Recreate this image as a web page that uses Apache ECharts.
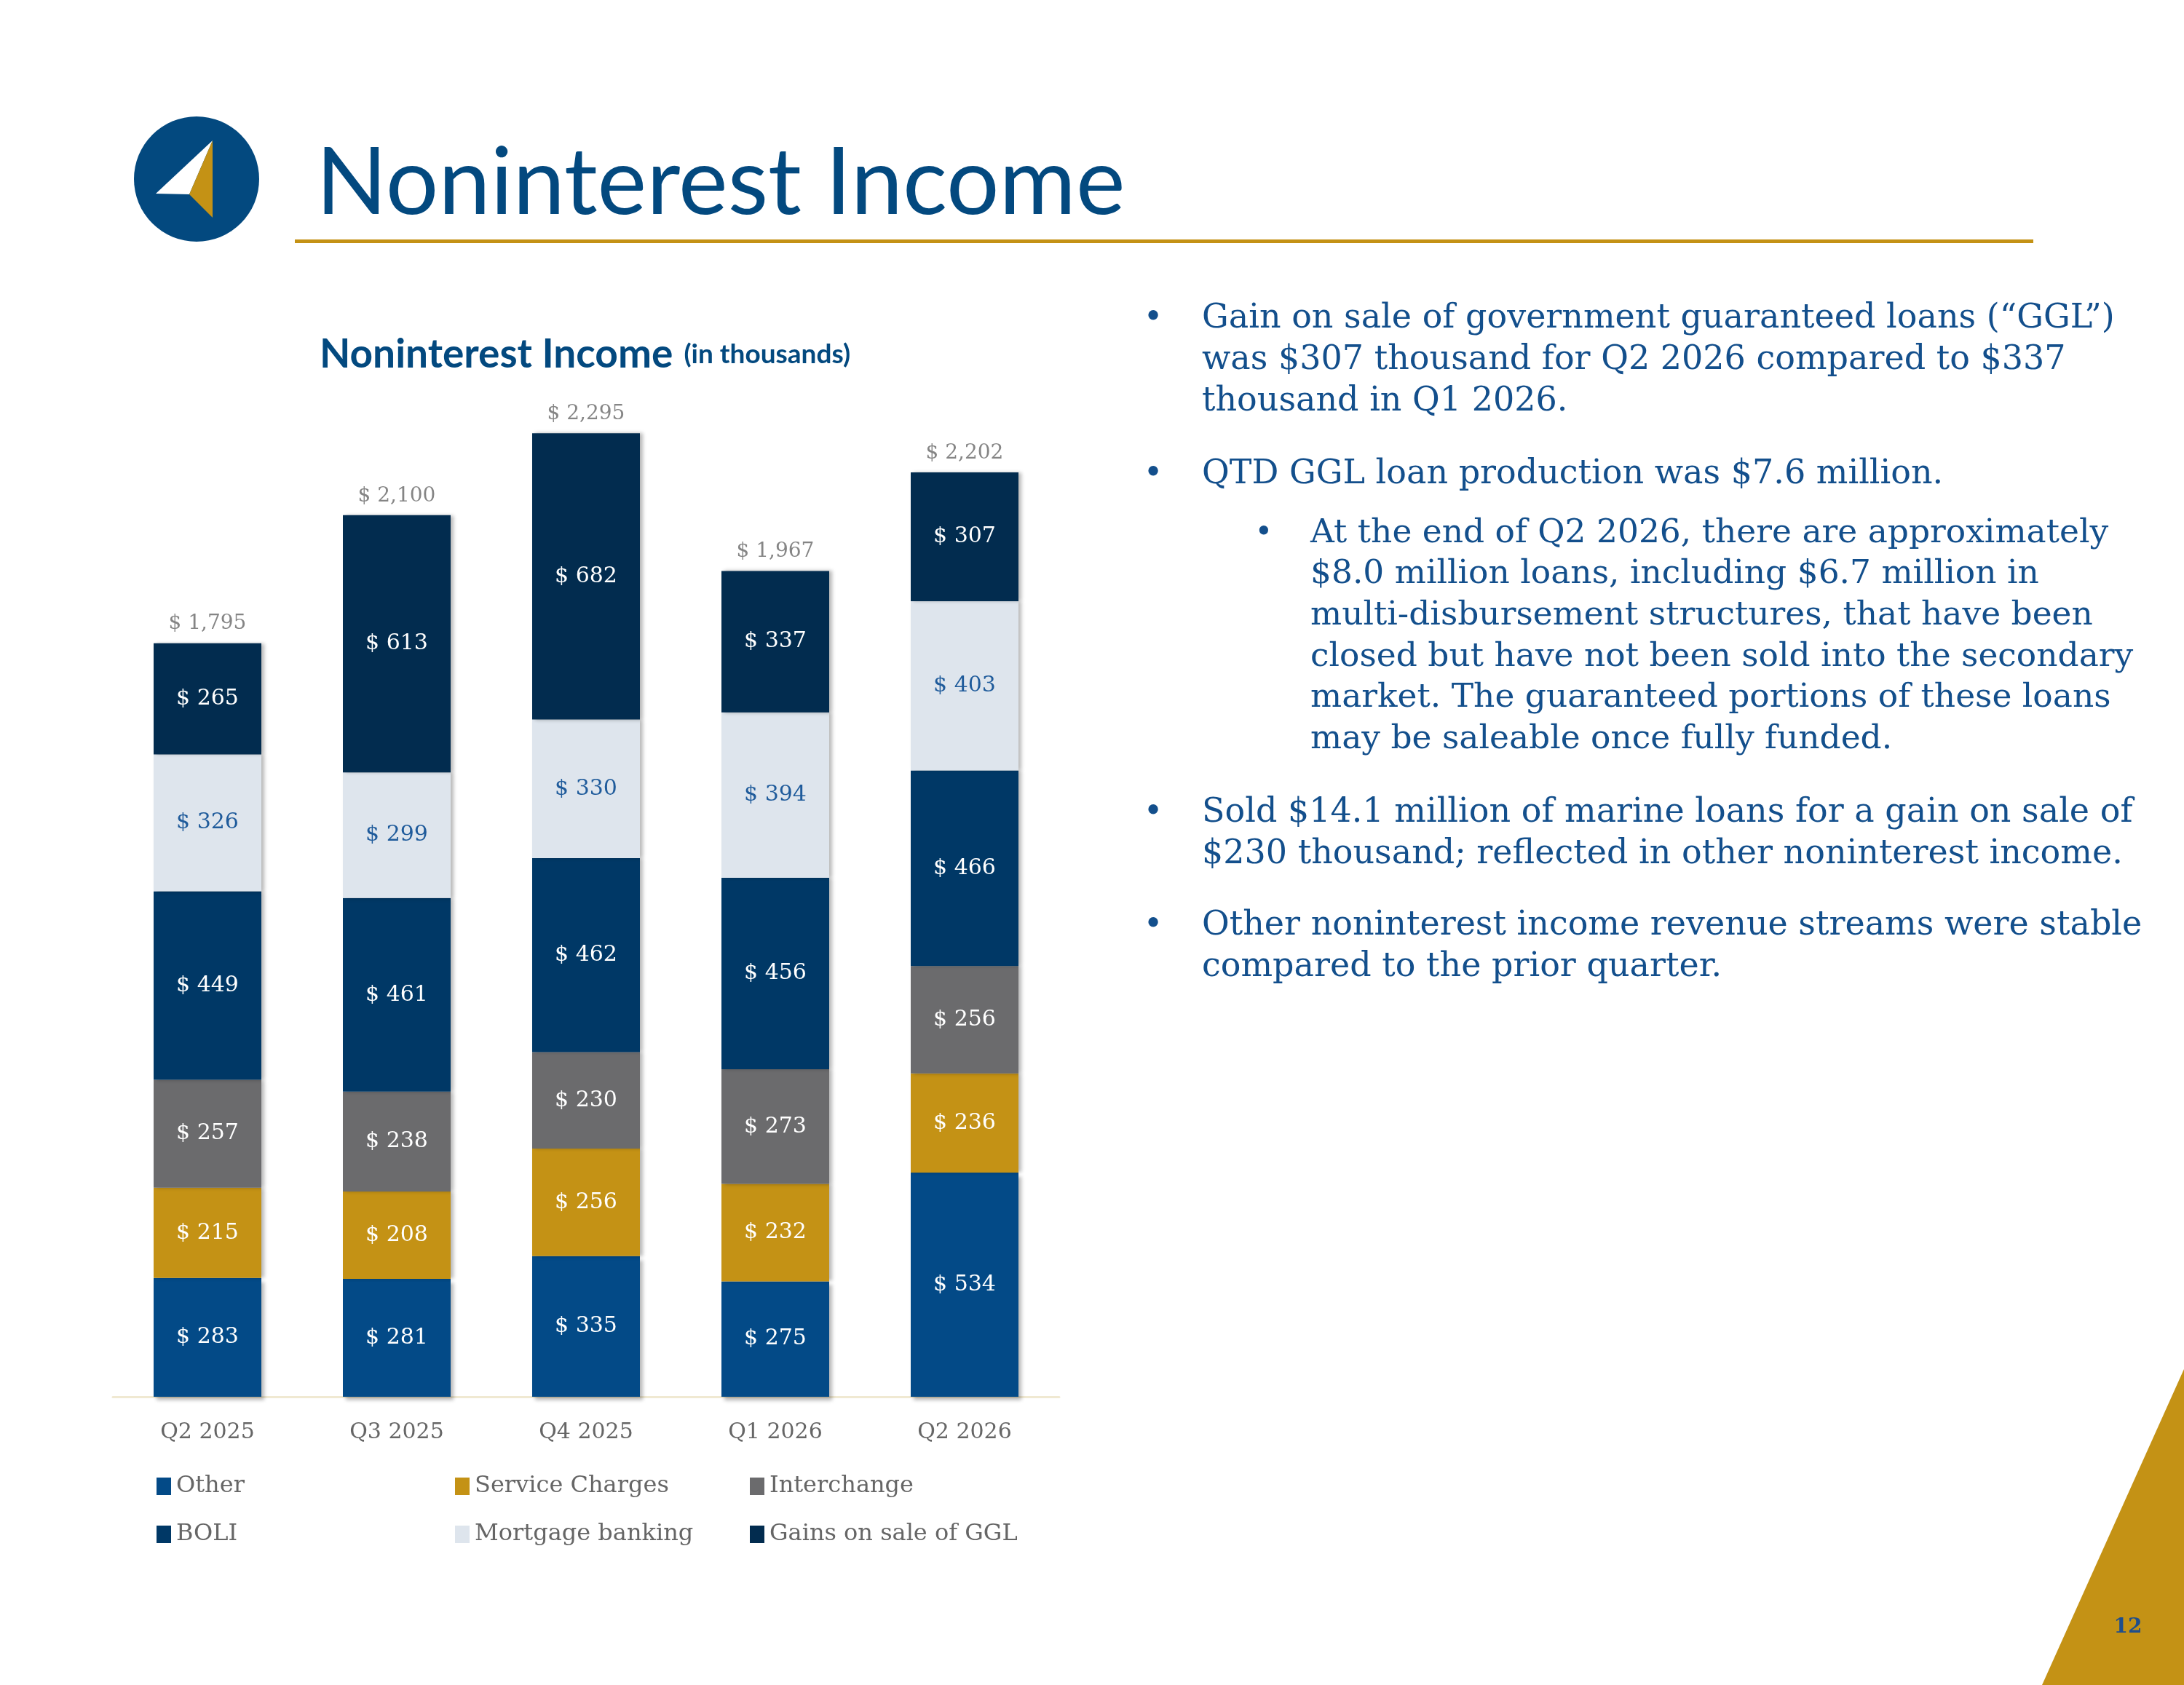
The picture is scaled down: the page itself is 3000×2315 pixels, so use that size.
<!DOCTYPE html>
<html><head><meta charset="utf-8">
<script src="https://cdn.jsdelivr.net/npm/echarts@6/dist/echarts.min.js"></script>
<style>html,body{margin:0;padding:0;background:#fff}#c{width:3000px;height:2315px}</style>
</head><body><div id="c"></div>
<script>
// ---- data ----
const quarters = ['Q2 2025', 'Q3 2025', 'Q4 2025', 'Q1 2026', 'Q2 2026'];
const other = [283, 281, 335, 275, 534];
const serviceCharges = [215, 208, 256, 232, 236];
const interchange = [257, 238, 230, 273, 256];
const boli = [449, 461, 462, 456, 466];
const mortgageBanking = [326, 299, 330, 394, 403];
const gglGains = [265, 613, 682, 337, 307];
const totals = [1795, 2100, 2295, 1967, 2202];
const seriesNames = ['Other', 'Service Charges', 'Interchange', 'BOLI', 'Mortgage banking', 'Gains on sale of GGL'];

const bulletLines = [
  ['Gain on sale of government guaranteed loans (\u201cGGL\u201d)', 'was $307 thousand for Q2 2026 compared to $337', 'thousand in Q1 2026.'],
  ['QTD GGL loan production was $7.6 million.'],
  ['Sold $14.1 million of marine loans for a gain on sale of', '$230 thousand; reflected in other noninterest income.'],
  ['Other noninterest income revenue streams were stable', 'compared to the prior quarter.']
];
const subBulletLines = ['At the end of Q2 2026, there are approximately', '$8.0 million loans, including $6.7 million in', 'multi-disbursement structures, that have been', 'closed but have not been sold into the secondary', 'market. The guaranteed portions of these loans', 'may be saleable once fully funded.'];

// ---- styles ----
const SERIF = "'DejaVu Serif', 'Liberation Serif', serif";
const SANS = "Lato, 'Open Sans', sans-serif";
const BLUE = '#03497F';
const GOLD = '#C49215';
const TEXTBLUE = '#134F8C';
const colors = ['#034A87', '#C49215', '#6B6B6D', '#003866', '#DEE5ED', '#022C4F'];
const labelColors = ['#fff', '#fff', '#fff', '#fff', '#1F5B9B', '#fff'];
const seriesData = [other, serviceCharges, interchange, boli, mortgageBanking, gglGains];
const fmt = v => '$ ' + Number(v).toLocaleString('en-US');

const chart = echarts.init(document.getElementById('c'), null, {renderer: 'canvas'});

const series = seriesData.map((d, i) => ({
  name: seriesNames[i],
  type: 'bar',
  stack: 'total',
  barWidth: 148,
  data: d,
  itemStyle: {
    color: colors[i],
    shadowColor: 'rgba(0,0,0,0.28)',
    shadowBlur: 5,
    shadowOffsetX: 4,
    shadowOffsetY: i === 0 ? 5 : 0
  },
  label: {
    show: true,
    position: 'inside',
    formatter: p => fmt(p.value),
    color: labelColors[i],
    fontFamily: SERIF,
    fontSize: 30
  },
  emphasis: {disabled: true}
}));
series.push({
  name: 'Total',
  type: 'scatter',
  data: totals,
  symbolSize: 1,
  itemStyle: {color: 'rgba(0,0,0,0)'},
  z: 10,
  label: {
    show: true,
    position: 'top',
    distance: 12,
    formatter: p => fmt(p.value),
    color: '#666666',
    fontFamily: SERIF,
    fontSize: 28
  }
});

const legendCommon = {
  orient: 'vertical',
  icon: 'rect',
  itemWidth: 20,
  itemHeight: 24,
  itemGap: 34,
  textStyle: {color: '#666', fontFamily: SERIF, fontSize: 32, padding: [0, 0, 0, 2]},
  selectedMode: false
};

const graphics = [];
// logo
graphics.push({type: 'circle', shape: {cx: 270, cy: 246, r: 86}, style: {fill: BLUE}});
graphics.push({type: 'polygon', shape: {points: [[292, 193], [214, 266], [260, 267]]}, style: {fill: '#fff'}});
graphics.push({type: 'polygon', shape: {points: [[292, 193], [260, 267], [292, 299]]}, style: {fill: GOLD}});
// main title
graphics.push({type: 'text', x: 434, y: 253, style: {text: 'Noninterest Income', font: '128px ' + SANS, fill: BLUE, textVerticalAlign: 'middle'}});
// gold rule
graphics.push({type: 'rect', shape: {x: 405, y: 329, width: 2388, height: 5}, style: {fill: GOLD}});
// bullets
const bulletStarts = [438, 652, 1117, 1272];
bulletLines.forEach((lines, bi) => {
  graphics.push({type: 'text', x: 1584, y: bulletStarts[bi], style: {text: '\u2022', font: '46px ' + SERIF, fill: TEXTBLUE, textAlign: 'center', textVerticalAlign: 'middle'}});
  lines.forEach((t, li) => {
    graphics.push({type: 'text', x: 1651, y: bulletStarts[bi] + li * 57, style: {text: t, font: '46px ' + SERIF, fill: TEXTBLUE, textVerticalAlign: 'middle'}});
  });
});
graphics.push({type: 'text', x: 1736, y: 733, style: {text: '\u2022', font: '42px ' + SERIF, fill: TEXTBLUE, textAlign: 'center', textVerticalAlign: 'middle'}});
subBulletLines.forEach((t, li) => {
  graphics.push({type: 'text', x: 1800, y: 733 + li * 56.6, style: {text: t, font: '45.5px ' + SERIF, fill: TEXTBLUE, textVerticalAlign: 'middle'}});
});
// corner triangle and page number
graphics.push({type: 'polygon', shape: {points: [[3000, 1881], [2805, 2315], [3000, 2315]]}, style: {fill: GOLD}});
graphics.push({type: 'text', x: 2923, y: 2236, style: {text: '12', font: 'bold 28px ' + SERIF, fill: '#1F4E8C', textAlign: 'center', textVerticalAlign: 'middle'}});

chart.setOption({
  animation: false,
  backgroundColor: '#fff',
  title: {
    text: '{a|Noninterest Income}   {b|(in thousands)}',
    left: 434,
    top: 455,
    textStyle: {
      rich: {
        a: {fontFamily: SANS, fontWeight: 'bold', fontSize: 55, color: BLUE},
        b: {fontFamily: SANS, fontWeight: 'bold', fontSize: 37, color: BLUE}
      }
    }
  },
  legend: [
    Object.assign({data: ['Other', 'BOLI'], left: 210, top: 2021}, legendCommon),
    Object.assign({data: ['Service Charges', 'Mortgage banking'], left: 620, top: 2021}, legendCommon),
    Object.assign({data: ['Interchange', 'Gains on sale of GGL'], left: 1025, top: 2021}, legendCommon)
  ],
  grid: {left: 155, right: 1545, top: 477, bottom: 396, containLabel: false},
  xAxis: {
    type: 'category',
    data: quarters,
    axisLine: {show: true, lineStyle: {color: '#F0E9D2', width: 3}},
    axisTick: {show: false},
    axisLabel: {color: '#666666', fontFamily: SERIF, fontSize: 30, margin: 34}
  },
  yAxis: {
    type: 'value',
    min: 0,
    max: 2500,
    show: false,
    splitLine: {show: false}
  },
  series: series,
  graphic: graphics
});
</script>
</body></html>
